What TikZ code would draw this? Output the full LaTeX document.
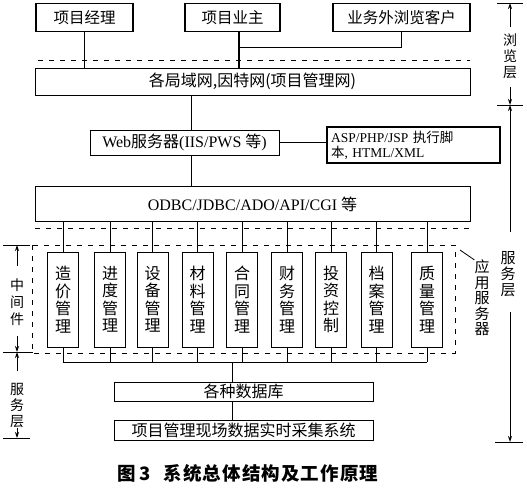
\documentclass[tikz,border=0pt]{standalone}
\usepackage{fontspec}
\setmainfont{Liberation Serif}
\newfontfamily\cjk{Noto Sans CJK SC}
\newfontfamily\cjksp{Noto Sans CJK SC}[LetterSpace=6]
\usetikzlibrary{arrows.meta}
\begin{document}
\begin{tikzpicture}[x=1pt,y=-1pt,
  box/.style={draw, line width=0.9pt, inner sep=0pt, font=\cjk\fontsize{15.5}{18}\selectfont},
  lat/.style={draw, line width=0.9pt, inner sep=0pt, font=\fontsize{16}{18}\selectfont},
  modbox/.style={draw, line width=0.9pt, minimum width=31pt, minimum height=95pt, inner sep=0pt, align=center, font=\cjk\fontsize{16}{17.5}\selectfont},
  conn/.style={line width=0.8pt},
  dsh/.style={line width=0.8pt, dash pattern=on 5pt off 6pt},
  lbl/.style={align=center, inner sep=0pt, font=\cjk\fontsize{14}{16}\selectfont},
  tick/.style={line width=0.9pt},
  arr/.style={line width=0.9pt, -{Stealth[length=6pt,width=4pt]}}
]
\useasboundingbox (0,0) rectangle (527,489);

% top layer
\node[box, line width=1.2pt, minimum width=97pt, minimum height=28pt] (pm) at (84.5,17.5) {项目经理};
\node[box, line width=1.2pt, minimum width=95pt, minimum height=28pt] (owner) at (232.5,17.5) {项目业主};
\node[box, line width=1.2pt, minimum width=137pt, minimum height=28pt] (client) at (401.5,17.5) {业务外浏览客户};
\node[box, font=\cjk\fontsize{16}{18}\selectfont, minimum width=435pt, minimum height=27pt] (lan) at (252.5,81.5) {各局域网,因特网(项目管理网)};

\coordinate (ox) at (239,31);
\coordinate (cj) at (401,47);
\draw[dsh] (38,60) -- (470,60);
\draw[conn] (pm.south) -- (pm.south |- lan.north);
\draw[conn, line width=1.1pt] (ox |- owner.south) -- (ox |- lan.north);
\draw[conn] (client.south -| cj) -- (cj) -- (cj -| ox);

% web layer
\node[lat, minimum width=189pt, minimum height=25pt] (web) at (184.5,142.5) {Web{\cjk 服务器}(IIS/PWS {\cjk 等})};
\node[lat, font=\fontsize{13.5}{15}\selectfont, line width=1.1pt, minimum width=173pt, minimum height=36pt, align=left, text width=165pt] (asp) at (413.5,145) {ASP/PHP/JSP {\cjk 执行脚}\\{\cjk 本}, HTML/XML};
\node[lat, minimum width=435pt, minimum height=35pt] (odbc) at (252.5,204) {ODBC/JDBC/ADO/API/CGI {\cjk 等}};

\coordinate (wx) at (191,100);
\draw[conn] (wx |- lan.south) -- (wx |- web.north);
\draw[conn] (wx |- web.south) -- (wx |- odbc.north);
\draw[conn] (web.east) -- (web.east -| asp.west);

% middleware dashed
\draw[dsh] (35,228) -- (470,228);
\draw[dsh] (32,245) rectangle (455,353);

% modules
\node[modbox] (m1) at (63,299.5) {造\\价\\管\\理};
\node[modbox] (m2) at (110,299.5) {进\\度\\管\\理};
\node[modbox] (m3) at (152.5,299.5) {设\\备\\管\\理};
\node[modbox] (m4) at (197.5,299.5) {材\\料\\管\\理};
\node[modbox] (m5) at (242,299.5) {合\\同\\管\\理};
\node[modbox] (m6) at (287,299.5) {财\\务\\管\\理};
\node[modbox] (m7) at (331,299.5) {投\\资\\控\\制};
\node[modbox] (m8) at (376.5,299.5) {档\\案\\管\\理};
\node[modbox] (m9) at (427,299.5) {质\\量\\管\\理};

\coordinate (bus) at (232,362);
\foreach \m in {m1,m2,m3,m4,m5,m6,m7,m8,m9}{
  \draw[conn] (\m.north) -- (\m.north |- odbc.south);
  \draw[conn] (\m.south) -- (\m.south |- bus);
}
\draw[conn] (m1.south |- bus) -- (m9.south |- bus);

% database layer
\node[box, font=\cjk\fontsize{16}{18}\selectfont, minimum width=259pt, minimum height=19pt] (db) at (243.5,391.5) {各种数据库};
\node[box, font=\cjk\fontsize{16}{18}\selectfont, minimum width=259pt, minimum height=20pt] (acq) at (243.5,430) {项目管理现场数据实时采集系统};
\draw[conn] (bus) -- (bus |- db.north);
\draw[conn] (bus |- db.south) -- (bus |- acq.north);

% application server label
\node[lbl, font=\cjk\fontsize{15}{15.5}\selectfont] (appsrv) at (482,298) {应\\用\\服\\务\\器};
\coordinate (appd) at (460,250);
\draw[conn] (appd) -- (appsrv.north west);

% right bracket
\draw[tick] (497,3) -- (523,3);
\draw[tick] (497,105) -- (523,105);
\draw[tick] (495,442) -- (523,442);
\node[lbl] (browse) at (510,56) {浏\\览\\层};
\node[lbl, font=\cjk\fontsize{15}{16}\selectfont] (servR) at (508,274) {服\\务\\层};
\draw[arr] (510,27) -- (510,3);
\draw[arr] (510,87) -- (510,105);
\draw[arr] (510,232) -- (510,105);
\draw[arr] (510,312) -- (510,442);

% left bracket
\draw[tick] (3,245) -- (30,245);
\draw[tick] (3,352) -- (33,352);
\draw[tick] (3,438) -- (30,438);
\node[lbl, font=\cjk\fontsize{14}{17}\selectfont] (mid) at (17,302) {中\\间\\件};
\node[lbl] (servL) at (17,405) {服\\务\\层};
\draw[arr] (17,266) -- (17,245);
\draw[arr] (17,336) -- (17,352);
\draw[arr] (17,371) -- (17,352);
\draw[arr] (17,428) -- (17,438);

% caption
\node[inner sep=0pt, font=\cjksp\bfseries\fontsize{18.5}{20}\selectfont] (cap) at (248,473) {图\,3\hspace{0.7em}系统总体结构及工作原理};
\end{tikzpicture}
\end{document}
